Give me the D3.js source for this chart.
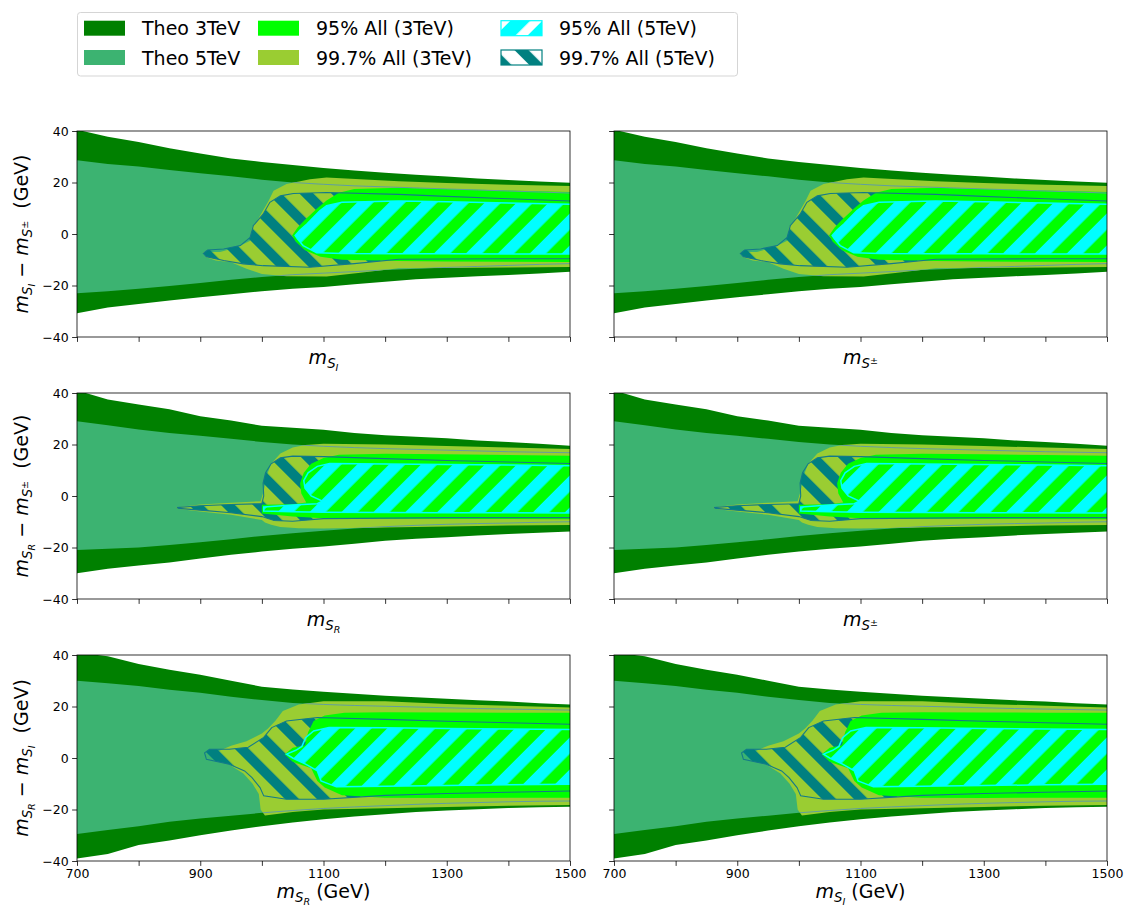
<!DOCTYPE html>
<html>
<head>
<meta charset="utf-8">
<script src="https://cdn.jsdelivr.net/npm/d3@7"></script>
<style>
  body { margin: 0; background: #fff; }
  svg { display: block; font-family: "DejaVu Sans", sans-serif; }
</style>
</head>
<body>
<script>
// mass grid (GeV) for the theory bands
var massGrid = [700, 750, 800, 850, 900, 950, 1000, 1050, 1100, 1150, 1200, 1250, 1300, 1350, 1400, 1450, 1500]
var xTicks = [700, 800, 900, 1000, 1100, 1200, 1300, 1400, 1500]
var xTickLabels = [700, 900, 1100, 1300, 1500]
var yTicks = [-40, -20, 0, 20, 40]

// ---- row 1 : m_SI - m_S+-
var theo3Up1 = [40.5, 37.8, 35.7, 33.3, 31.3, 29.3, 28, 26.8, 25.6, 24.7, 23.8, 23, 22.3, 21.6, 21, 20.4, 19.9]
var theo3Lo1 = [-30.8, -28.5, -27.2, -25.8, -24.6, -23.4, -22.2, -21.3, -20.6, -19.5, -18.5, -17.6, -17, -16.4, -15.9, -15.3, -14.7]
var theo5Up1 = [28.6, 27.2, 26.2, 24.9, 23.6, 22.4, 21.1, 20, 19.3, 18.7, 18.3, 17.9, 17.5, 17.1, 16.7, 16.3, 15.9]
var theo5Lo1 = [-23, -22.2, -21.3, -20.2, -19, -17.8, -16.7, -15.8, -15.2, -14.6, -14, -13.5, -13, -12.6, -12.2, -11.8, -11.5]
var all997g3TeV1 = [[905, -7], [932, -7], [959, -5.2], [981, -2.6], [984, 2.6], [994, 5.8], [1011, 12.9], [1019, 16.8], [1040, 19.4], [1078, 21.3], [1105, 21.9], [1160, 21.3], [1222, 20.5], [1300, 19.8], [1400, 19.1], [1505, 18.6],
  [1505, -12.8], [1400, -13], [1300, -13.2], [1222, -13.3], [1160, -15], [1105, -16.5], [1040, -16.4], [1000, -15.5], [975, -13.5], [950, -11], [925, -10.3], [910, -9]]
var all95g3TeV1 = [[1049, -0.6], [1058, 2.5], [1070, 5.5], [1090, 10], [1105, 13], [1125, 16], [1150, 17.5], [1222, 18], [1300, 17.5], [1400, 16.9], [1505, 16.3],
  [1505, -10.9], [1400, -10.8], [1300, -10.7], [1222, -10.5], [1130, -10], [1095, -8.8], [1070, -6.3], [1055, -3]]
var all997g5TeV1 = [[905, -7.5], [912, -6.2], [938, -5.8], [965, -4.5], [981, -1.3], [986, 3.2], [1002, 7.7], [1013, 12.3], [1030, 14.8], [1051, 15.7], [1105, 16.1], [1222, 15.4], [1300, 14.6], [1400, 13.7], [1505, 12.8],
  [1505, -9.6], [1400, -9.6], [1300, -9.7], [1222, -9.8], [1150, -11.5], [1078, -12.9], [1002, -12.3], [970, -11.6], [938, -10.3], [910, -8.8]]
var all95g5TeV1 = [[1054, -0.6], [1062, 1.5], [1073, 3.9], [1094, 9], [1105, 11], [1130, 12.3], [1222, 12.8], [1300, 12.5], [1400, 12], [1505, 11.5],
  [1505, -7.8], [1400, -7.8], [1300, -7.7], [1222, -7.7], [1130, -7.6], [1089, -7.3], [1067, -4.5], [1058, -2]]

// ---- row 2 : m_SR - m_S+-
var theo3Up2 = [41, 37.5, 35.5, 33.7, 31, 29.3, 27.3, 26.5, 25.7, 24.5, 23.6, 23, 22.4, 21.6, 21, 20.3, 19.5]
var theo3Lo2 = [-30, -28.3, -27, -25.8, -24.3, -22.8, -21.6, -20.5, -19.6, -18.5, -17.4, -16.6, -16, -15.3, -14.8, -14.3, -13.8]
var theo5Up2 = [29, 27.5, 25.8, 24.5, 23.4, 22.2, 21, 20, 19.3, 18.8, 18.4, 18.1, 17.8, 17.5, 17.2, 17, 16.8]
var theo5Lo2 = [-21, -20.5, -20, -19, -18, -16.8, -15.5, -14.5, -13.5, -12.6, -11.9, -11.4, -11, -10.7, -10.5, -10.2, -10]
var all997g3TeV2 = [[860, -4.5], [900, -3.3], [950, -2.6], [998, -2], [1003, 2], [1008, 8], [1015, 12.5], [1030, 16.5], [1050, 18.8], [1070, 19.8], [1100, 20.3], [1200, 20], [1300, 19.4], [1400, 18.8], [1505, 18.2],
  [1505, -11.2], [1400, -11.5], [1300, -11.8], [1200, -12.2], [1100, -12.6], [1060, -12.5], [1030, -12], [1015, -11.2], [1005, -10.3], [1000, -9.3], [950, -7.3], [900, -6], [865, -5]]
var all95g3TeV2 = [[1000, -3.4], [1050, -3.2], [1072, -2.5], [1064, 1], [1062, 5], [1068, 9], [1080, 12.5], [1100, 14.8], [1125, 16], [1200, 16.4], [1300, 16.2], [1400, 15.9], [1505, 15.6],
  [1505, -9], [1300, -8.9], [1200, -8.8], [1100, -8.6], [1050, -8], [1000, -6.8]]
var all997g5TeV2 = [[862, -4.5], [900, -3.8], [950, -3.3], [1000, -3], [1003, 0], [1002, 5], [1006, 9], [1015, 12.5], [1030, 14.8], [1050, 15.5], [1100, 15.3], [1200, 14.5], [1300, 13.8], [1400, 13.2], [1505, 12.6],
  [1505, -8.4], [1300, -8.4], [1100, -8.8], [1050, -9.8], [1020, -9.5], [1000, -8], [950, -6.5], [900, -5.5], [865, -4.8]]
var all95g5TeV2 = [[1003, -4.3], [1050, -3.5], [1090, -3], [1098, -2], [1080, 0], [1070, 3], [1068, 6], [1075, 9], [1090, 11.5], [1110, 12.6], [1200, 12.4], [1300, 12.2], [1400, 12], [1505, 11.7],
  [1505, -6.6], [1300, -6.5], [1200, -6.4], [1100, -6.3], [1050, -6.1], [1003, -5.8]]

// ---- row 3 : m_SR - m_SI
var theo3Up3 = [41, 39.5, 36.5, 34.3, 32.3, 30, 27.7, 26.6, 25.7, 25, 24.2, 23.6, 23, 22.4, 21.9, 21.3, 20.8]
var theo3Lo3 = [-39, -37.3, -33.8, -32, -30, -28.2, -26.5, -25, -23.8, -22.7, -21.8, -21, -20.4, -19.9, -19.4, -19.1, -18.9]
var theo5Up3 = [30, 29, 28, 26.5, 25.3, 23.8, 22.5, 21.4, 20.8, 20.4, 20.1, 19.8, 19.5, 19.2, 19, 18.8, 18.6]
var theo5Lo3 = [-29.5, -28, -26.5, -24.8, -23.5, -22.4, -21.3, -20.4, -19.6, -19, -18.5, -18, -17.6, -17.3, -17, -16.8, -16.7]
var all997g3TeV3 = [[928, 2.5], [950, 4.8], [975, 6.5], [1000, 9.5], [1010, 11.5], [1022, 14.5], [1034, 18.3], [1060, 20.8], [1100, 22], [1200, 22], [1300, 21], [1400, 20.3], [1505, 19.6],
  [1505, -18.2], [1400, -18.5], [1300, -19], [1200, -19.5], [1100, -20], [1050, -21], [1005, -22.3], [998, -20], [995, -14], [985, -10], [970, -6], [950, -3], [935, 0]]
var all95g3TeV3 = [[1070, 5], [1075, 10], [1084, 14.4], [1102, 16.5], [1134, 17.6], [1200, 17.8], [1300, 17.7], [1400, 17.6], [1505, 17.6],
  [1505, -15.4], [1400, -15.4], [1300, -15.5], [1200, -15.4], [1130, -14.5], [1102, -11.5], [1090, -8.9], [1080, -4], [1050, -1.5], [1037, 1.5], [1050, 4]]
var all997g5TeV3 = [[907, 2], [915, 3.4], [947, 3.4], [978, 4.2], [1003, 8], [1016, 11.8], [1040, 14.4], [1090, 15.7], [1200, 15], [1300, 14.3], [1400, 13.7], [1505, 13.1],
  [1505, -12.8], [1400, -13.3], [1300, -13.8], [1200, -14.5], [1100, -16], [1040, -16], [1003, -14.7], [997, -11.5], [984, -7.6], [972, -5], [947, -2.4], [910, -0.5]]
var all95g5TeV3 = [[1040, 1.5], [1055, 3], [1065, 4.5], [1071, 7.9], [1084, 10.5], [1109, 11.8], [1200, 11.7], [1300, 11.5], [1400, 11.3], [1505, 11.1],
  [1505, -10.2], [1400, -10.4], [1300, -10.7], [1200, -11], [1121, -11.2], [1096, -8.9], [1090, -5], [1071, -2.4], [1050, 0]]

var rows = [
  { theo3Up: theo3Up1, theo3Lo: theo3Lo1, theo5Up: theo5Up1, theo5Lo: theo5Lo1, yg: all997g3TeV1, lime: all95g3TeV1, teal: all997g5TeV1, cyan: all95g5TeV1 },
  { theo3Up: theo3Up2, theo3Lo: theo3Lo2, theo5Up: theo5Up2, theo5Lo: theo5Lo2, yg: all997g3TeV2, lime: all95g3TeV2, teal: all997g5TeV2, cyan: all95g5TeV2 },
  { theo3Up: theo3Up3, theo3Lo: theo3Lo3, theo5Up: theo5Up3, theo5Lo: theo5Lo3, yg: all997g3TeV3, lime: all95g3TeV3, teal: all997g5TeV3, cyan: all95g5TeV3 }
]
// subscripts: y label pair per row, x label per row and column
var yLabelSubs = [['I', '±'], ['R', '±'], ['R', 'I']]
var xLabelSubs = [['I', '±'], ['R', '±'], ['R', 'I']]

var legendItems = [
  { label: 'Theo 3TeV', fill: '#008000' },
  { label: 'Theo 5TeV', fill: '#3cb371' },
  { label: '95% All (3TeV)', fill: '#00ff00' },
  { label: '99.7% All (3TeV)', fill: '#9acd32' },
  { label: '95% All (5TeV)', fill: 'url(#legCyan)', edge: '#00ffff' },
  { label: '99.7% All (5TeV)', fill: 'url(#legTeal)', edge: '#008080' }
]

var colX = [77, 614], colW = 493
var rowY = [131, 393, 655], rowH = 206
var labelSize = 19, tickSize = 12.5

var svg = d3.select('body').append('svg').attr('width', 1128).attr('height', 907)
var defs = svg.append('defs')

function hatch(id, color, angle, width, shift) {
  var p = defs.append('pattern').attr('id', id)
    .attr('patternUnits', 'userSpaceOnUse')
    .attr('x', shift || 0)
    .attr('width', 22.6).attr('height', 22.6)
    .attr('patternTransform', 'rotate(' + angle + ')')
  p.append('rect').attr('width', width).attr('height', 22.6).attr('fill', color)
}
hatch('hatchCyan', '#00ffff', 45, 11.5)
hatch('hatchTeal', '#008080', -45, 10)
hatch('legCyan', '#00ffff', 45, 14, 14)
hatch('legTeal', '#008080', -45, 10, 12)

// m_{S_x} style label made of tspans
function massSegs(segs, sub, fs) {
  segs.push({ t: 'm', it: true, fs: fs, shift: 0 })
  segs.push({ t: 'S', it: true, fs: fs * 0.7, shift: 0.22 * fs })
  if (sub === '±') segs.push({ t: '±', it: false, fs: fs * 0.5, shift: -0.02 * fs })
  else segs.push({ t: sub, it: true, fs: fs * 0.5, shift: 0.38 * fs })
}
function writeSegs(text, segs) {
  var prev = 0
  segs.forEach(function(s) {
    text.append('tspan')
      .attr('font-style', s.it ? 'italic' : 'normal')
      .attr('font-size', s.fs)
      .attr('dy', s.shift - prev)
      .text(s.t)
    prev = s.shift
  })
}

function drawPanel(r, c) {
  var d = rows[r]
  var id = 'p' + r + c
  var g = svg.append('g').attr('transform', 'translate(' + colX[c] + ',' + rowY[r] + ')')
  var x = d3.scaleLinear().domain([700, 1500]).range([0, colW])
  var y = d3.scaleLinear().domain([-40, 40]).range([rowH, 0])

  defs.append('clipPath').attr('id', 'clip' + id)
    .append('rect').attr('width', colW).attr('height', rowH)
  var plot = g.append('g').attr('clip-path', 'url(#clip' + id + ')')

  function band(up, lo) {
    return d3.area()
      .x(function(v, i) { return x(massGrid[i]) })
      .y0(function(v, i) { return y(lo[i]) })
      .y1(function(v, i) { return y(up[i]) })(up)
  }
  var poly = d3.line().x(function(p) { return x(p[0]) }).y(function(p) { return y(p[1]) })

  plot.append('path').attr('d', band(d.theo3Up, d.theo3Lo)).attr('fill', '#008000')
  plot.append('path').attr('d', band(d.theo5Up, d.theo5Lo)).attr('fill', '#3cb371')
  plot.append('path').attr('d', poly(d.yg) + 'Z').attr('fill', '#9acd32')
  plot.append('path').attr('d', poly(d.teal) + 'Z').attr('fill', 'url(#hatchTeal)')
  plot.append('path').attr('d', poly(d.lime) + 'Z').attr('fill', '#00ff00')
  plot.append('path').attr('d', poly(d.cyan) + 'Z').attr('fill', 'url(#hatchCyan)')

  // faint edge of the 5TeV theory band, only seen inside the 99.7% region
  defs.append('clipPath').attr('id', 'yg' + id).append('path').attr('d', poly(d.yg) + 'Z')
  var edge = d3.line().x(function(v, i) { return x(massGrid[i]) }).y(function(v) { return y(v) })
  var inner = plot.append('g').attr('clip-path', 'url(#yg' + id + ')')
  inner.append('path').attr('d', edge(d.theo5Up)).attr('fill', 'none').attr('stroke', '#5f9ea0').attr('stroke-width', 1)
  inner.append('path').attr('d', edge(d.theo5Lo)).attr('fill', 'none').attr('stroke', '#5f9ea0').attr('stroke-width', 1)

  plot.append('path').attr('d', poly(d.teal) + 'Z').attr('fill', 'none').attr('stroke', '#137a8a').attr('stroke-width', 1.1)
  plot.append('path').attr('d', poly(d.cyan) + 'Z').attr('fill', 'none').attr('stroke', '#00ffff').attr('stroke-width', 1.5)

  // axes
  var xa = g.append('g').attr('transform', 'translate(0,' + rowH + ')')
    .call(d3.axisBottom(x).tickValues(xTicks).tickSize(4.9).tickSizeOuter(0).tickPadding(3)
      .tickFormat(function(v) { return (r === 2 && xTickLabels.indexOf(v) >= 0) ? v : '' }))
  var ya = g.append('g')
    .call(d3.axisLeft(y).tickValues(yTicks).tickSize(4.9).tickSizeOuter(0).tickPadding(3.5)
      .tickFormat(function(v) { return c === 0 ? d3.format('d')(v) : '' }))
  ;[xa, ya].forEach(function(a) {
    a.select('.domain').remove()
    a.selectAll('line').attr('stroke', '#000').attr('stroke-width', 0.8)
    a.selectAll('text').attr('fill', '#000').attr('font-size', tickSize).attr('font-family', '"DejaVu Sans", sans-serif')
  })
  g.append('rect').attr('width', colW).attr('height', rowH)
    .attr('fill', 'none').attr('stroke', '#000').attr('stroke-width', 0.8)

  // x label
  var xt = g.append('text').attr('x', colW / 2).attr('y', rowH + (r === 2 ? 37 : 27))
    .attr('text-anchor', 'middle').attr('font-size', labelSize).attr('fill', '#000')
  var segs = []
  massSegs(segs, xLabelSubs[r][c], labelSize)
  if (r === 2) segs.push({ t: ' (GeV)', it: false, fs: labelSize, shift: 0 })
  writeSegs(xt, segs)

  // y label
  if (c === 0) {
    var yt = g.append('text').attr('transform', 'translate(' + (28 - colX[0]) + ',' + rowH / 2 + ') rotate(-90)')
      .attr('text-anchor', 'middle').attr('font-size', labelSize).attr('fill', '#000')
    var ys = []
    massSegs(ys, yLabelSubs[r][0], labelSize)
    ys.push({ t: ' \u2212 ', it: false, fs: labelSize, shift: 0 })
    massSegs(ys, yLabelSubs[r][1], labelSize)
    ys.push({ t: '\u00a0 (GeV)', it: false, fs: labelSize, shift: 0 })
    writeSegs(yt, ys)
  }
}

for (var r = 0; r < 3; r++) {
  for (var c = 0; c < 2; c++) drawPanel(r, c)
}

// legend
var leg = svg.append('g')
leg.append('rect').attr('x', 77.5).attr('y', 12.5).attr('width', 660).attr('height', 63.5)
  .attr('rx', 3).attr('fill', '#fff').attr('stroke', '#d5d5d5').attr('stroke-width', 1)
var legCols = [84, 258, 501]
var legRows = [20.7, 50]
legendItems.forEach(function(it, i) {
  var cx = legCols[Math.floor(i / 2)], cy = legRows[i % 2]
  if (it.edge) leg.append('rect').attr('x', cx).attr('y', cy).attr('width', 41).attr('height', 15).attr('fill', '#fff')
  leg.append('rect').attr('x', cx).attr('y', cy).attr('width', 41).attr('height', 15)
    .attr('fill', it.fill)
    .attr('stroke', it.edge || 'none').attr('stroke-width', it.edge ? 1.2 : 0)
  leg.append('text').attr('x', cx + 58).attr('y', cy + 14.5)
    .attr('font-size', labelSize).attr('fill', '#000').text(it.label)
})
</script>
</body>
</html>
